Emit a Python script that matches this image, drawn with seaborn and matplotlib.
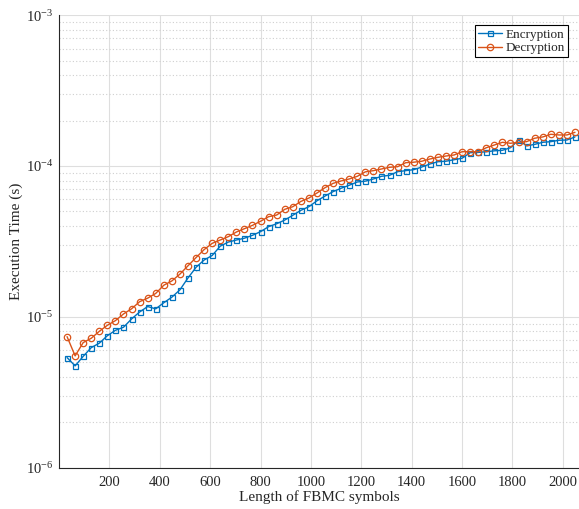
import numpy as np
import pandas as pd
import matplotlib
matplotlib.use("Agg")
import matplotlib.pyplot as plt
import seaborn as sns
from matplotlib.ticker import LogLocator, FixedLocator, NullFormatter, LogFormatterSciNotation

# ---- data ----
lengths = [32 * k for k in range(1, 65)]
encryption = [
    5.37e-6, 4.73e-6, 5.47e-6, 6.25e-6, 6.69e-6, 7.50e-6, 8.14e-6, 8.53e-6,
    9.68e-6, 1.077e-5, 1.17e-5, 1.13e-5, 1.24e-5, 1.35e-5, 1.51e-5, 1.81e-5,
    2.13e-5, 2.38e-5, 2.55e-5, 2.94e-5, 3.13e-5, 3.23e-5, 3.32e-5, 3.47e-5,
    3.67e-5, 3.96e-5, 4.14e-5, 4.38e-5, 4.71e-5, 5.08e-5, 5.37e-5, 5.88e-5,
    6.32e-5, 6.76e-5, 7.12e-5, 7.45e-5, 7.83e-5, 7.93e-5, 8.20e-5, 8.54e-5,
    8.67e-5, 9.16e-5, 9.31e-5, 9.45e-5, 9.84e-5, 1.03e-4, 1.067e-4, 1.075e-4,
    1.10e-4, 1.125e-4, 1.225e-4, 1.23e-4, 1.243e-4, 1.26e-4, 1.27e-4, 1.321e-4,
    1.486e-4, 1.36e-4, 1.39e-4, 1.435e-4, 1.449e-4, 1.48e-4, 1.486e-4, 1.557e-4,
]
decryption = [
    7.39e-6, 5.51e-6, 6.75e-6, 7.21e-6, 8.02e-6, 8.79e-6, 9.44e-6, 1.045e-5,
    1.13e-5, 1.26e-5, 1.33e-5, 1.43e-5, 1.62e-5, 1.73e-5, 1.92e-5, 2.18e-5,
    2.47e-5, 2.79e-5, 3.07e-5, 3.23e-5, 3.40e-5, 3.65e-5, 3.84e-5, 4.04e-5,
    4.30e-5, 4.61e-5, 4.73e-5, 5.16e-5, 5.37e-5, 5.82e-5, 6.13e-5, 6.62e-5,
    7.18e-5, 7.67e-5, 7.96e-5, 8.20e-5, 8.54e-5, 9.14e-5, 9.31e-5, 9.55e-5,
    9.80e-5, 9.89e-5, 1.051e-4, 1.059e-4, 1.075e-4, 1.112e-4, 1.141e-4, 1.164e-4,
    1.182e-4, 1.243e-4, 1.243e-4, 1.243e-4, 1.321e-4, 1.377e-4, 1.435e-4, 1.414e-4,
    1.435e-4, 1.449e-4, 1.527e-4, 1.557e-4, 1.622e-4, 1.605e-4, 1.605e-4, 1.671e-4,
]
series_names = ["Encryption", "Decryption"]
x_ticks = [200, 400, 600, 800, 1000, 1200, 1400, 1600, 1800, 2000]
x_label = "Length of FBMC symbols"
y_label = "Execution Time (s)"

df = pd.DataFrame({
    "length": lengths * 2,
    "time": encryption + decryption,
    "series": [series_names[0]] * len(lengths) + [series_names[1]] * len(lengths),
})

# ---- style ----
sns.set_theme(style="white")
plt.rcParams["font.family"] = ["Liberation Serif", "DejaVu Serif"]
plt.rcParams["mathtext.fontset"] = "stix"

colors = {"Encryption": "#0072BD", "Decryption": "#D95319"}
markers = {"Encryption": "s", "Decryption": "o"}
msizes = {"Encryption": 3.6, "Decryption": 4.6}

fig = plt.figure(figsize=(5.79, 5.09), dpi=100)
ax = fig.add_axes([59 / 579, (509 - 467.7) / 509, 1 - 59 / 579, (467.7 - 15.1) / 509])

for name in series_names:
    sub = df[df["series"] == name]
    sns.lineplot(data=sub, x="length", y="time", ax=ax, color=colors[name],
                 marker=markers[name], markersize=msizes[name],
                 markerfacecolor="none", markeredgecolor=colors[name],
                 markeredgewidth=0.9, linewidth=1.0, label=name)

ax.set_yscale("log")
ax.set_ylim(1e-6, 1e-3)
ax.set_xlim(0, 2064)

ax.xaxis.set_major_locator(FixedLocator(x_ticks))
ax.yaxis.set_major_locator(LogLocator(base=10, numticks=10))
ax.yaxis.set_major_formatter(LogFormatterSciNotation())
ax.yaxis.set_minor_locator(LogLocator(base=10, subs=np.arange(2, 10), numticks=20))
ax.yaxis.set_minor_formatter(NullFormatter())

ax.grid(True, which="major", axis="both", color="#dedede", linewidth=0.8, linestyle="-")
ax.grid(True, which="minor", axis="y", color="#cfcfcf", linewidth=0.8, linestyle=(0, (1, 2)))
ax.set_axisbelow(True)

for s in ["top", "right"]:
    ax.spines[s].set_visible(False)
for s in ["left", "bottom"]:
    ax.spines[s].set_color("#262626")
    ax.spines[s].set_linewidth(0.8)

ax.tick_params(axis="both", which="major", direction="in", length=5, width=0.7,
               colors="#262626", labelsize=10.5, labelcolor="#262626")
ax.tick_params(axis="y", which="minor", direction="in", length=3, width=0.6, colors="#262626")
ax.tick_params(axis="x", which="major", pad=6)
ax.tick_params(axis="y", which="major", pad=4)

ax.set_xlabel(x_label, fontsize=11, color="#262626", labelpad=1)
ax.set_ylabel(y_label, fontsize=11, color="#262626", labelpad=2)

leg = ax.legend(loc="upper right", bbox_to_anchor=(0.979, 0.978), fontsize=9.5,
                frameon=True, fancybox=False, edgecolor="black", framealpha=1,
                handlelength=1.8, handletextpad=0.25, borderpad=0.25,
                labelspacing=0.1, borderaxespad=0)
leg.get_frame().set_linewidth(0.8)

fig.savefig("out.png", dpi=100)
